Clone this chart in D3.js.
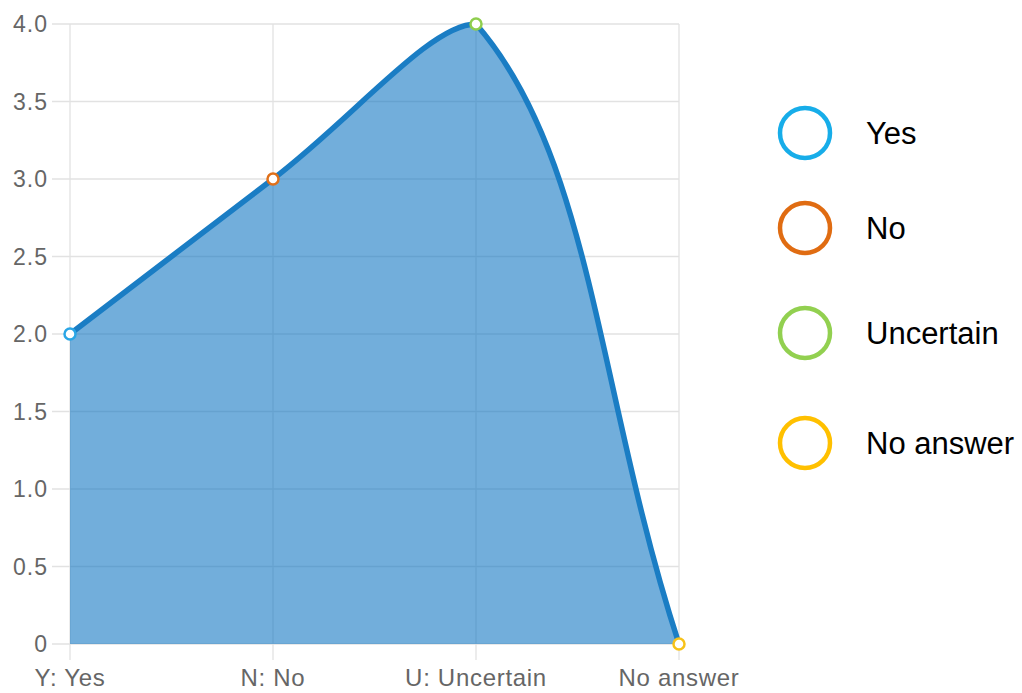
<!DOCTYPE html>
<html>
<head>
<meta charset="utf-8">
<script src="https://cdn.jsdelivr.net/npm/d3@7"></script>
<style>
  html, body { margin: 0; padding: 0; background: #fff; }
  svg { display: block; font-family: "Liberation Sans", Arial, sans-serif; }
</style>
</head>
<body>
<svg id="chart" width="1022" height="693"></svg>
<script>
// Responses per answer
const categories = ["Y: Yes", "N: No", "U: Uncertain", "No answer"];
const values = [2, 3, 4, 0];
const legendLabels = ["Yes", "No", "Uncertain", "No answer"];
const pointColors = ["#2aa6e6", "#e0701a", "#8fce4e", "#f7c21a"];
const legendColors = ["#17ade9", "#e06c12", "#92d050", "#ffc000"];
const yTicks = [0, 0.5, 1, 1.5, 2, 2.5, 3, 3.5, 4];

const svg = d3.select("#chart");

const x = d3.scalePoint().domain(categories).range([70, 679]);
const y = d3.scaleLinear().domain([0, 4]).range([644, 24]);

const gridColor = "#e2e2e2";
const g = svg.append("g");

// horizontal grid + tick marks
g.selectAll("line.h").data(yTicks).join("line")
  .attr("x1", 52).attr("x2", 679)
  .attr("y1", d => y(d)).attr("y2", d => y(d))
  .attr("stroke", gridColor).attr("stroke-width", 1.3);

// vertical grid + tick marks
g.selectAll("line.v").data(categories).join("line")
  .attr("x1", d => x(d)).attr("x2", d => x(d))
  .attr("y1", 24).attr("y2", 660)
  .attr("stroke", gridColor).attr("stroke-width", 1.3);

// y tick labels
g.selectAll("text.yt").data(yTicks).join("text")
  .attr("x", 48).attr("y", d => y(d))
  .attr("dy", "0.36em")
  .attr("text-anchor", "end")
  .attr("font-size", 23)
  .attr("letter-spacing", 1)
  .attr("fill", "#666")
  .text(d => d === 0 ? "0" : d.toFixed(1));

// x tick labels
g.selectAll("text.xt").data(categories).join("text")
  .attr("x", d => x(d)).attr("y", 686)
  .attr("text-anchor", "middle")
  .attr("font-size", 24)
  .attr("letter-spacing", 0.7)
  .attr("fill", "#666")
  .text(d => d);

const pts = categories.map((c, i) => ({ c, v: values[i], color: pointColors[i], px: x(c), py: y(values[i]) }));

// Cardinal-style spline (tension 0.4) with control points kept inside the plot area
const tension = 0.4;
const plotTop = y(4), plotBottom = y(0);
const plotLeft = x(categories[0]), plotRight = x(categories[categories.length - 1]);
const clampX = v => Math.max(plotLeft, Math.min(plotRight, v));
const clampY = v => Math.max(plotTop, Math.min(plotBottom, v));
pts.forEach((p, i) => {
  const prev = pts[i - 1] || p, next = pts[i + 1] || p;
  const d01 = Math.hypot(p.px - prev.px, p.py - prev.py);
  const d12 = Math.hypot(next.px - p.px, next.py - p.py);
  const s = d01 + d12 || 1;
  const fa = tension * d01 / s, fb = tension * d12 / s;
  p.c1x = clampX(p.px - fa * (next.px - prev.px));
  p.c1y = clampY(p.py - fa * (next.py - prev.py));
  p.c2x = clampX(p.px + fb * (next.px - prev.px));
  p.c2y = clampY(p.py + fb * (next.py - prev.py));
});

function curvePath(ctx) {
  ctx.moveTo(pts[0].px, pts[0].py);
  for (let i = 1; i < pts.length; i++) {
    const a = pts[i - 1], b = pts[i];
    ctx.bezierCurveTo(a.c2x, a.c2y, b.c1x, b.c1y, b.px, b.py);
  }
  return ctx;
}

const linePath = curvePath(d3.path()).toString();
const areaCtx = curvePath(d3.path());
areaCtx.lineTo(pts[pts.length - 1].px, y(0));
areaCtx.lineTo(pts[0].px, y(0));
areaCtx.closePath();

svg.append("path")
  .attr("d", areaCtx.toString())
  .attr("fill", "rgb(20,120,195)")
  .attr("fill-opacity", 0.6);

svg.append("path")
  .attr("d", linePath)
  .attr("fill", "none")
  .attr("stroke", "#1a7dc4")
  .attr("stroke-width", 5.5);

svg.selectAll("circle.pt").data(pts).join("circle")
  .attr("cx", d => d.px).attr("cy", d => d.py)
  .attr("r", 5.5)
  .attr("fill", "#fff")
  .attr("stroke", d => d.color)
  .attr("stroke-width", 2.5);

// legend
const legendY = [133, 228, 333, 443];
const lg = svg.append("g");
lg.selectAll("circle").data(legendLabels).join("circle")
  .attr("cx", 805).attr("cy", (d, i) => legendY[i])
  .attr("r", 25)
  .attr("fill", "none")
  .attr("stroke", (d, i) => legendColors[i])
  .attr("stroke-width", 4.5);
lg.selectAll("text").data(legendLabels).join("text")
  .attr("x", 866).attr("y", (d, i) => legendY[i])
  .attr("dy", "0.36em")
  .attr("font-size", 31)
  .attr("fill", "#000")
  .text(d => d);
</script>
</body>
</html>
